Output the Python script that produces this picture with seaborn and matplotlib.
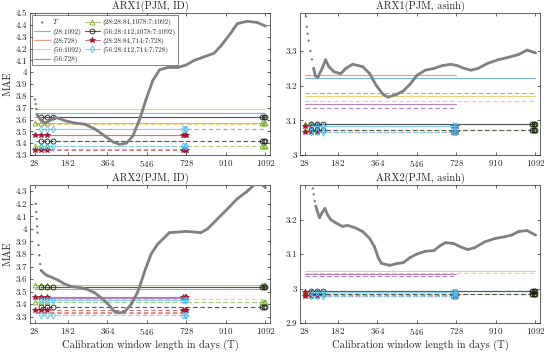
import numpy as np
import pandas as pd
import seaborn as sns
import matplotlib
matplotlib.use("Agg")
import matplotlib.pyplot as plt
from matplotlib.ticker import FormatStrFormatter, FixedLocator

# ---- data ----
series_labels = ['(28:1092)', '(28:728)', '(56:1092)', '(56:728)',
                 '(28:28:84,1078:7:1092)', '(56:28:112,1078:7:1092)',
                 '(28:28:84,714:7:728)', '(56:28:112,714:7:728)']
series_x = [[28, 1092], [28, 728], [28, 1092], [28, 728],
            [28, 56, 84, 1078, 1085, 1092], [56, 84, 112, 1078, 1085, 1092],
            [28, 56, 84, 714, 721, 728], [56, 84, 112, 714, 721, 728]]

# ARX1(PJM, ID)
T_arx1_id = [30, 33, 36, 40, 54, 77, 107, 120, 138, 168, 214, 260, 306, 352, 390, 420, 451,
             481, 512, 542, 573, 604, 642, 688, 726, 764, 810, 855, 886, 932, 962, 1008, 1054, 1092]
mae_arx1_id = [3.77, 3.73, 3.69, 3.64, 3.60, 3.57, 3.60, 3.62, 3.61, 3.59, 3.57, 3.56, 3.52, 3.46,
               3.41, 3.39, 3.40, 3.46, 3.60, 3.77, 3.93, 4.02, 4.04, 4.04, 4.06, 4.10, 4.13, 4.16,
               4.22, 4.33, 4.41, 4.43, 4.42, 4.39]
solid_arx1_id = [3.655, 3.47, 3.69, 3.62, 3.57, 3.62, 3.465, 3.52]
dashed_arx1_id = [3.52, 3.35, 3.56, 3.42, 3.38, 3.42, 3.34, 3.38]

# ARX1(PJM, asinh)
T_arx1_as = [34, 38, 42, 47, 55, 62, 70, 78, 90, 109, 125, 140, 164, 195, 218, 250, 296, 328, 359,
             390, 413, 452, 483, 515, 546, 585, 624, 663, 702, 733, 764, 795, 827, 873, 920, 967,
             1014, 1053, 1076, 1092]
mae_arx1_as = [3.40, 3.37, 3.35, 3.33, 3.30, 3.276, 3.25, 3.228, 3.225, 3.25, 3.275, 3.255, 3.24,
               3.235, 3.25, 3.262, 3.255, 3.235, 3.20, 3.175, 3.167, 3.175, 3.185, 3.205, 3.23,
               3.245, 3.25, 3.258, 3.262, 3.258, 3.25, 3.245, 3.25, 3.265, 3.275, 3.282, 3.29,
               3.303, 3.298, 3.295]
solid_arx1_as = [3.221, 3.232, 3.17, 3.148, 3.09, 3.09, 3.083, 3.083]
dashed_arx1_as = [3.18, 3.18, 3.157, 3.135, 3.071, 3.071, 3.065, 3.065]

# ARX2(PJM, ID)
T_arx2_id = [34, 36, 38, 40, 42, 46, 50, 54, 58, 69, 84, 107, 138, 168, 199, 245, 275, 306, 336,
             367, 397, 420, 443, 474, 504, 535, 565, 596, 626, 649, 688, 726, 764, 794, 825, 871,
             917, 962, 1008, 1039, 1060, 1077, 1092]
mae_arx2_id = [4.2, 4.135, 4.08, 4.02, 3.97, 3.87, 3.79, 3.72, 3.67, 3.65, 3.63, 3.615, 3.59, 3.56,
               3.54, 3.53, 3.515, 3.49, 3.45, 3.40, 3.34, 3.33, 3.34, 3.40, 3.50, 3.66, 3.80, 3.88,
               3.93, 3.97, 3.975, 3.98, 3.975, 3.97, 4.0, 4.08, 4.16, 4.24, 4.30, 4.35, 4.37, 4.35, 4.33]
solid_arx2_id = [3.525, 3.46, 3.535, 3.45, 3.555, 3.535, 3.455, 3.43]
dashed_arx2_id = [3.42, 3.34, 3.44, 3.33, 3.42, 3.375, 3.355, 3.315]

# ARX2(PJM, asinh)
T_arx2_as = [62, 66, 70, 75, 80, 86, 97, 109, 122, 133, 148, 172, 203, 226, 265, 296, 328, 351,
             367, 382, 421, 452, 483, 515, 546, 585, 624, 655, 678, 717, 749, 780, 811, 858, 905,
             951, 983, 1014, 1053, 1092]
mae_arx2_as = [3.30, 3.29, 3.273, 3.253, 3.239, 3.225, 3.205, 3.22, 3.232, 3.215, 3.20, 3.19, 3.18,
               3.183, 3.175, 3.165, 3.145, 3.12, 3.09, 3.073, 3.067, 3.072, 3.075, 3.09, 3.10,
               3.108, 3.11, 3.125, 3.133, 3.13, 3.12, 3.113, 3.118, 3.135, 3.145, 3.15, 3.155,
               3.165, 3.168, 3.155]
solid_arx2_as = [2.994, 2.99, 3.051, 3.042, 2.994, 2.994, 2.99, 2.99]
dashed_arx2_as = [2.985, 2.98, 3.046, 3.035, 2.985, 2.985, 2.978, 2.978]

xticks = [28, 182, 364, 546, 728, 910, 1092]

# ---- styling ----
sns.set_style('ticks')
plt.rcParams.update({
    'font.family': ['cmr10'],
    'mathtext.fontset': 'cm',
    'axes.formatter.use_mathtext': True,
    'axes.edgecolor': '#262626',
    'axes.linewidth': 0.5,
    'xtick.direction': 'in', 'ytick.direction': 'in',
    'xtick.top': True, 'ytick.right': True,
    'xtick.major.size': 2.5, 'ytick.major.size': 2.5,
    'xtick.major.width': 0.5, 'ytick.major.width': 0.5,
    'xtick.labelsize': 6.5, 'ytick.labelsize': 6.5,
    'xtick.color': '#262626', 'ytick.color': '#262626',
})

# pale line colours, stronger marker colours
line_colors = ['#7db4df', '#eb9a82', '#f2cf73', '#b684c0',
               '#a9cc7f', '#555555', '#cf7585', '#86d0ef']
marker_colors = ['#0072bd', '#d95319', '#edb120', '#7e2f8e',
                 '#77ac30', '#1a1a1a', '#a2142f', '#4dbeee']
markers = [None, None, None, None, '^', 'o', '*', 'd']

panels = [
    ('ARX1(PJM, ID)', T_arx1_id, mae_arx1_id, 4, solid_arx1_id, dashed_arx1_id,
     (3.3, 4.5), np.arange(3.3, 4.51, 0.1)),
    ('ARX1(PJM, asinh)', T_arx1_as, mae_arx1_as, 7, solid_arx1_as, dashed_arx1_as,
     (3.0, 3.41), np.arange(3.0, 3.31, 0.1)),
    ('ARX2(PJM, ID)', T_arx2_id, mae_arx2_id, 9, solid_arx2_id, dashed_arx2_id,
     (3.25, 4.35), np.arange(3.3, 4.31, 0.1)),
    ('ARX2(PJM, asinh)', T_arx2_as, mae_arx2_as, 5, solid_arx2_as, dashed_arx2_as,
     (2.9, 3.3), np.arange(2.9, 3.21, 0.1)),
]

W, H = 550, 353
boxes = [(30, 13, 270, 155), (300, 13, 540, 155), (30, 185, 270, 323), (300, 185, 540, 323)]

fig = plt.figure(figsize=(W / 100, H / 100), dpi=100)

for i, (title, T, mae, n_sparse, solid, dashed, ylim, yt) in enumerate(panels):
    l, t, r, b = boxes[i]
    ax = fig.add_axes([l / W, 1 - b / H, (r - l) / W, (b - t) / H])

    # grey curve: dots everywhere, dense part drawn as a thick line
    sns.scatterplot(x=T, y=mae, ax=ax, color='#808080', s=3, marker='o',
                    edgecolor='none', label='$T$', zorder=4)
    sns.lineplot(x=T[n_sparse - 1:], y=mae[n_sparse - 1:], ax=ax, color='#808080',
                 lw=2.0, zorder=4, sort=False)

    for k in range(8):
        xs = series_x[k]
        mk = markers[k]
        kw = dict(color=line_colors[k], lw=0.8, sort=False)
        if mk is not None:
            kw.update(marker=mk, markersize=3.5 if mk != '*' else 4.2,
                      markeredgewidth=0.6,
                      markerfacecolor=marker_colors[k] if mk == '*' else 'none',
                      markeredgecolor=marker_colors[k])
        sns.lineplot(x=xs, y=[solid[k]] * len(xs), ax=ax,
                     label=series_labels[k], **kw)
        sns.lineplot(x=xs, y=[dashed[k]] * len(xs), ax=ax,
                     linestyle=(0, (4, 2.5)), **kw)

    ax.set_xlim(7, 1113)
    ax.set_ylim(*ylim)
    ax.xaxis.set_major_locator(FixedLocator(xticks))
    ax.yaxis.set_major_locator(FixedLocator(np.round(yt, 2)))
    ax.yaxis.set_major_formatter(FormatStrFormatter('%g'))
    ax.tick_params(pad=2)
    ax.set_title(title, fontsize=7.5, pad=3)
    if i % 2 == 0:
        ax.set_ylabel('MAE', fontsize=7.5, labelpad=2)
    else:
        ax.set_ylabel('')
    if i >= 2:
        ax.set_xlabel('Calibration window length in days (T)', fontsize=7.5, labelpad=2)
    else:
        ax.set_xlabel('')

    if i == 0:
        leg = ax.legend(ncol=2, loc='upper left', fontsize=5.2, frameon=True,
                        fancybox=False, edgecolor='#262626', handlelength=2.2,
                        handletextpad=0.3, columnspacing=0.4, labelspacing=0.3,
                        borderpad=0.3, borderaxespad=0.3, numpoints=1, scatterpoints=1)
        leg.get_frame().set_linewidth(0.5)
    else:
        lg = ax.get_legend()
        if lg is not None:
            lg.remove()

fig.savefig('out.png', dpi=100)
